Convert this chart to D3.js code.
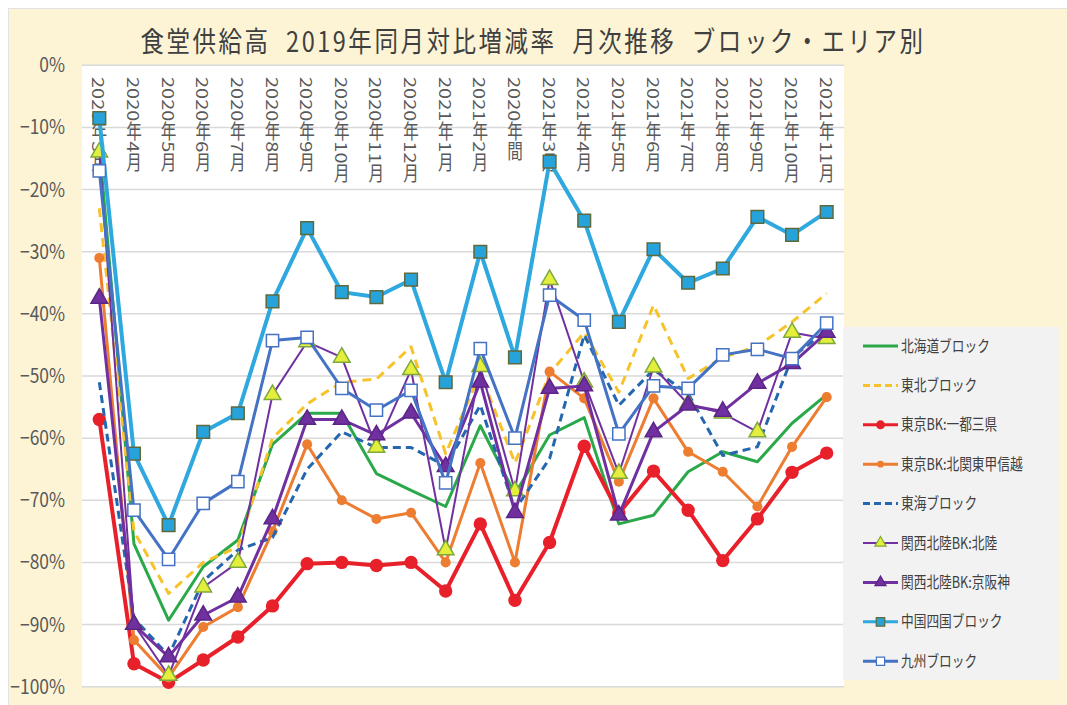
<!DOCTYPE html>
<html>
<head>
<meta charset="utf-8">
<script src="https://cdn.jsdelivr.net/npm/d3@7"></script>
<style>
  body { margin: 0; background: #fff; }
  text { font-family: "Noto Sans CJK JP", "Noto Sans", sans-serif; }
</style>
</head>
<body>
<div id="chart"></div>
<script>
const W = 1067, H = 705;

// categories (x axis)
const months = ["2020年3月","2020年4月","2020年5月","2020年6月","2020年7月","2020年8月","2020年9月",
  "2020年10月","2020年11月","2020年12月","2021年1月","2021年2月","2020年間","2021年3月","2021年4月",
  "2021年5月","2021年6月","2021年7月","2021年8月","2021年9月","2021年10月","2021年11月"];

const yTicks = [0, -10, -20, -30, -40, -50, -60, -70, -80, -90, -100];

// series values, % vs same month of 2019
const hokkaido   = [-13, -77, -89.3, -80.7, -76.4, -61, -56, -56, -65.7, -68.4, -71, -58, -69, -59.5, -56.7, -73.8, -72.4, -65.4, -62.2, -63.8, -57.6, -53];
const tohoku     = [-23, -75, -85, -80, -77.5, -60, -54.5, -51, -50.5, -45.3, -62.5, -49.5, -64, -49.6, -43, -52.6, -38.6, -50.4, -47, -45.2, -41.3, -36.7];
const tokyo      = [-57, -96.3, -99.3, -95.7, -92, -87, -80.2, -80, -80.5, -80, -84.6, -73.8, -86.1, -76.8, -61.3, -72.1, -65.3, -71.6, -79.7, -73, -65.5, -62.4];
const kitakanto  = [-31, -92.5, -98.5, -90.4, -87.2, -75, -61, -70, -73, -72, -80, -64, -80, -49.3, -53.6, -67, -53.6, -62.2, -65.4, -71, -61.4, -53.4];
const tokai      = [-51, -89, -95, -83, -78, -76, -65, -59, -61.5, -61.5, -64.5, -54.7, -71.5, -63.3, -43.4, -54.7, -49, -52.8, -62.8, -61.4, -47, -42.6];
const hokuriku   = [-14, -90, -98.2, -84, -80, -53, -44.5, -47, -61.5, -49, -78, -48.5, -68.5, -34.5, -51, -65.7, -48.6, -54.5, -56, -59, -43, -44];
const keihanshin = [-37.5, -90, -95.2, -88.5, -85.6, -73, -57, -57, -59.5, -56, -64.6, -51, -72, -52, -51.6, -72.4, -59, -54.7, -55.7, -51.2, -48, -43];
const chugoku    = [-8.5, -62.5, -74, -59, -56, -38, -26.2, -36.5, -37.3, -34.5, -51, -30, -47, -15.5, -25, -41.3, -29.6, -35, -32.7, -24.4, -27.3, -23.6];
const kyushu     = [-17, -71.6, -79.5, -70.5, -67, -44.3, -43.8, -52, -55.5, -52.3, -67.2, -45.6, -60, -37, -41, -59.3, -51.6, -52, -46.6, -45.7, -47.2, -41.5];

const series = [
  {name: "北海道ブロック", values: hokkaido, color: "#2aa84a", width: 3, dash: null, marker: null},
  {name: "東北ブロック", values: tohoku, color: "#f7c32b", width: 3, dash: "9,6", marker: null},
  {name: "東京BK:一都三県", values: tokyo, color: "#e8202a", width: 4, dash: null,
    marker: {type: d3.symbolCircle, size: 140, fill: "#e8202a", stroke: "none"}},
  {name: "東京BK:北関東甲信越", values: kitakanto, color: "#ed7d31", width: 3, dash: null,
    marker: {type: d3.symbolCircle, size: 80, fill: "#ed7d31", stroke: "none"}},
  {name: "東海ブロック", values: tokai, color: "#2567ae", width: 3, dash: "8,5", marker: null},
  {name: "関西北陸BK:北陸", values: hokuriku, color: "#7030a0", width: 2, dash: null,
    marker: {type: d3.symbolTriangle, size: 120, fill: "#e3ef3c", stroke: "#7fa83c"}},
  {name: "関西北陸BK:京阪神", values: keihanshin, color: "#7030a0", width: 3, dash: null,
    marker: {type: d3.symbolTriangle, size: 120, fill: "#7030a0", stroke: "#5a2585"}},
  {name: "中国四国ブロック", values: chugoku, color: "#2ea8df", width: 4, dash: null,
    marker: {type: d3.symbolSquare, size: 160, fill: "#27a3dc", stroke: "#5e6a3c"}},
  {name: "九州ブロック", values: kyushu, color: "#4472c4", width: 3, dash: null,
    marker: {type: d3.symbolSquare, size: 150, fill: "#ffffff", stroke: "#4472c4"}}
];

const plot = {left: 82, right: 844, top: 65.3, bottom: 686.7};

const svg = d3.select("#chart").append("svg")
  .attr("width", W).attr("height", H);

// background
svg.append("rect").attr("x", 8.5).attr("y", 8.5).attr("width", W).attr("height", H)
  .attr("fill", "#fdf4d6").attr("stroke", "#e2e2e2");
svg.append("rect").attr("x", plot.left).attr("y", plot.top)
  .attr("width", plot.right - plot.left).attr("height", plot.bottom - plot.top)
  .attr("fill", "#ffffff");

const x = d3.scalePoint().domain(months).range([plot.left, plot.right]).padding(0.5);
const y = d3.scaleLinear().domain([-100, 0]).range([plot.bottom, plot.top]);

// title
svg.append("text")
  .attr("transform", "translate(533,52) scale(0.84,1)")
  .attr("text-anchor", "middle")
  .attr("font-size", 28)
  .attr("letter-spacing", 3)
  .attr("fill", "#404040")
  .style("white-space", "pre")
  .text("食堂供給高  2019年同月対比増減率  月次推移  ブロック・エリア別");

// gridlines
svg.append("g").selectAll("line").data(yTicks).enter().append("line")
  .attr("x1", plot.left).attr("x2", plot.right)
  .attr("y1", d => y(d)).attr("y2", d => y(d))
  .attr("stroke", "#d9d9d9").attr("stroke-width", 1.5);

// y labels
const fmt = d3.format(".0%");
svg.append("g").selectAll("text").data(yTicks).enter().append("text")
  .attr("transform", d => "translate(65," + (y(d) + 7) + ") scale(0.87,1)")
  .attr("text-anchor", "end")
  .attr("font-family", "'Liberation Sans', Arial, sans-serif")
  .attr("font-size", 20)
  .attr("fill", "#595959")
  .text(d => fmt(d / 100));

// x labels (vertical)
svg.append("g").selectAll("text").data(months).enter().append("text")
  .attr("transform", d => "translate(" + x(d) + ",77) scale(0.78,1)")
  .attr("font-size", 20)
  .attr("fill", "#595959")
  .style("writing-mode", "vertical-rl")
  .attr("text-anchor", "start")
  .text(d => d);

// lines + markers
const line = d3.line().x((d, i) => x(months[i])).y(d => y(d));

series.forEach(function(s) {
  const g = svg.append("g");
  g.append("path")
    .attr("d", line(s.values))
    .attr("fill", "none")
    .attr("stroke", s.color)
    .attr("stroke-width", s.width)
    .attr("stroke-dasharray", s.dash)
    .attr("stroke-linejoin", "round");
  if (s.marker) {
    g.selectAll("path.m").data(s.values).enter().append("path")
      .attr("class", "m")
      .attr("d", d3.symbol().type(s.marker.type).size(s.marker.size))
      .attr("transform", (d, i) => "translate(" + x(months[i]) + "," + y(d) + ")")
      .attr("fill", s.marker.fill)
      .attr("stroke", s.marker.stroke)
      .attr("stroke-width", 1.5);
  }
});

// legend
const lg = svg.append("g");
lg.append("rect").attr("x", 843).attr("y", 327).attr("width", 216).attr("height", 353)
  .attr("fill", "#f2f2f2");

const item = lg.selectAll("g.item").data(series).enter().append("g")
  .attr("class", "item")
  .attr("transform", (d, i) => "translate(0," + (346 + i * 39.4) + ")");

item.append("line")
  .attr("x1", 863).attr("x2", 898).attr("y1", 0).attr("y2", 0)
  .attr("stroke", d => d.color)
  .attr("stroke-width", d => Math.min(d.width, 3))
  .attr("stroke-dasharray", d => d.dash ? "7,4" : null);

item.filter(d => d.marker).append("path")
  .attr("d", d => d3.symbol().type(d.marker.type).size(d.marker.size * 0.45)())
  .attr("transform", "translate(880.5,0)")
  .attr("fill", d => d.marker.fill)
  .attr("stroke", d => d.marker.stroke)
  .attr("stroke-width", 1.2);

item.append("text")
  .attr("transform", "translate(901,5.5) scale(0.82,1)")
  .attr("font-size", 15.5)
  .attr("fill", "#404040")
  .text(d => d.name);
</script>
</body>
</html>
